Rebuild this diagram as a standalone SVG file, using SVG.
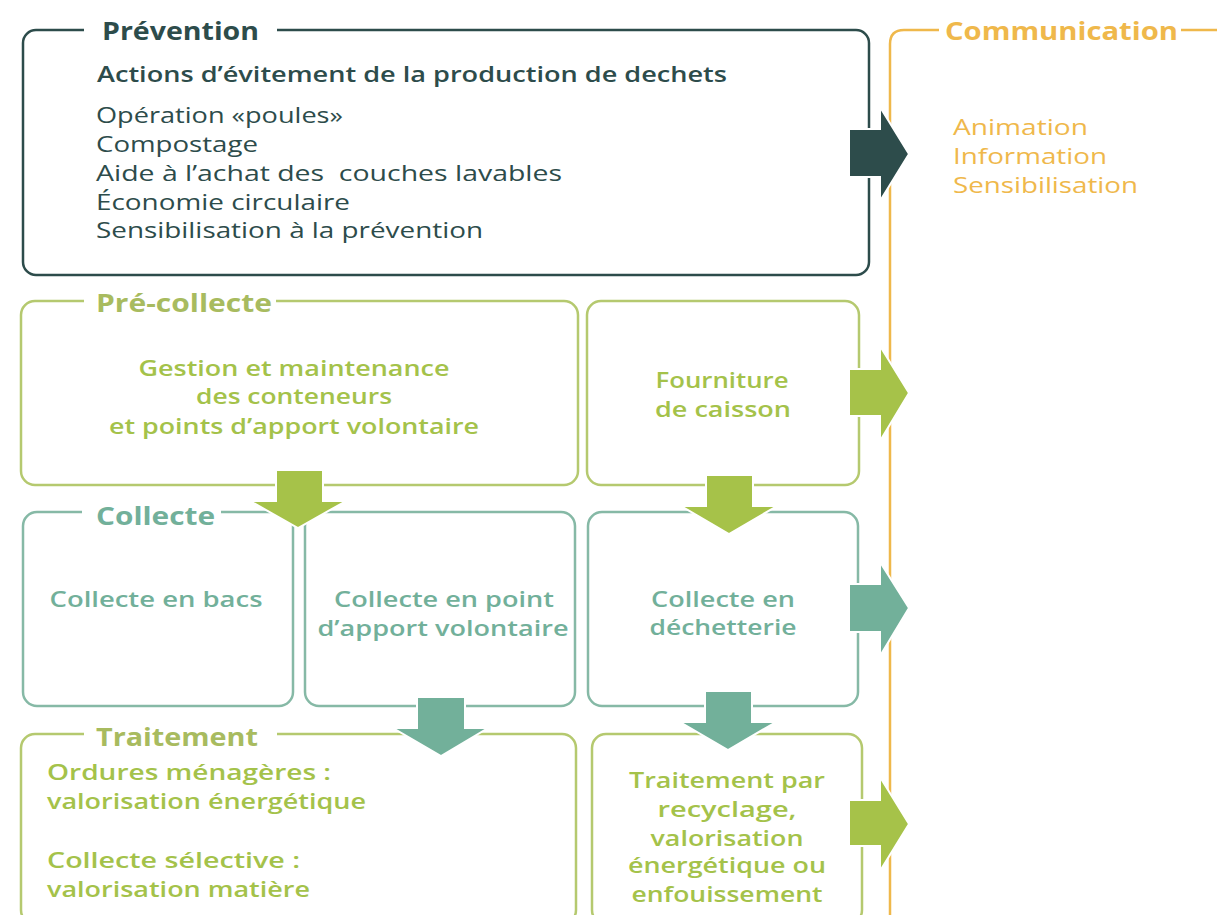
<svg xmlns="http://www.w3.org/2000/svg" width="1217" height="915" viewBox="0 0 1217 915">
<style>
text{font-family:"Open Sans","Liberation Sans",sans-serif}
.box{fill:none;stroke-width:2.5}
.dk{stroke:#2d4c4b}
.gr{stroke:#b5c96f}
.tl{stroke:#86b9a6}
.gap{fill:#fff;stroke:none}
.t{font-weight:700;font-size:25px}
.b{font-weight:600;font-size:21px}
.r{font-weight:400;font-size:22px}
.c{text-anchor:middle}
.fdk{fill:#2d4c4b}
.for{fill:#efb84b}
.fgt{fill:#a8bb5f}
.fg{fill:#a4c24a}
.ftl{fill:#72b09a}
.arr{stroke:#fff;stroke-width:2}
.pre{white-space:pre}
</style>
<rect width="1217" height="915" fill="#fff"/>

<g id="communication">
<path d="M890 925 V44 Q890 30 904 30 H939 M1181 30 H1217" fill="none" stroke="#efb84b" stroke-width="2.5"/>
<text x="945" y="40" class="t for" textLength="233" lengthAdjust="spacingAndGlyphs">Communication</text>
<text x="953" y="135" class="r for" textLength="135" lengthAdjust="spacingAndGlyphs">Animation</text>
<text x="953" y="164" class="r for" textLength="154" lengthAdjust="spacingAndGlyphs">Information</text>
<text x="953" y="193" class="r for" textLength="185" lengthAdjust="spacingAndGlyphs">Sensibilisation</text>
</g>

<g id="prevention">
<rect x="23" y="30" width="846" height="245" rx="13" class="box dk"/>
<rect x="84" y="25" width="193" height="10" class="gap"/>
<text x="102" y="40" class="t fdk" textLength="157" lengthAdjust="spacingAndGlyphs">Prévention</text>
<text x="97" y="82" class="b fdk" textLength="630" lengthAdjust="spacingAndGlyphs">Actions d’évitement de la production de dechets</text>
<text x="96" y="123" class="r fdk" textLength="247" lengthAdjust="spacingAndGlyphs">Opération «poules»</text>
<text x="96" y="152" class="r fdk" textLength="162" lengthAdjust="spacingAndGlyphs">Compostage</text>
<text x="96" y="181" class="r fdk pre" xml:space="preserve" textLength="466" lengthAdjust="spacingAndGlyphs">Aide à l’achat des  couches lavables</text>
<text x="96" y="210" class="r fdk" textLength="254" lengthAdjust="spacingAndGlyphs">Économie circulaire</text>
<text x="96" y="238" class="r fdk" textLength="387" lengthAdjust="spacingAndGlyphs">Sensibilisation à la prévention</text>
</g>

<g id="precollecte-gestion">
<rect x="21" y="301" width="557" height="184" rx="14" class="box gr"/>
<rect x="84" y="296" width="192" height="10" class="gap"/>
<text x="96" y="312" class="t fgt" textLength="176" lengthAdjust="spacingAndGlyphs">Pré-collecte</text>
<text x="294" y="376" class="b fg c" textLength="311" lengthAdjust="spacingAndGlyphs">Gestion et maintenance</text>
<text x="294" y="404" class="b fg c" textLength="196" lengthAdjust="spacingAndGlyphs">des conteneurs</text>
<text x="294" y="434" class="b fg c" textLength="370" lengthAdjust="spacingAndGlyphs">et points d’apport volontaire</text>
</g>

<g id="precollecte-caisson">
<rect x="587" y="301" width="272" height="184" rx="14" class="box gr"/>
<text x="722" y="388" class="b fg c" textLength="133" lengthAdjust="spacingAndGlyphs">Fourniture</text>
<text x="723" y="417" class="b fg c" textLength="136" lengthAdjust="spacingAndGlyphs">de caisson</text>
</g>

<g id="collecte-bacs">
<rect x="23" y="512" width="270" height="194" rx="14" class="box tl"/>
<rect x="82" y="506" width="139" height="10" class="gap"/>
<text x="96" y="525" class="t ftl" textLength="119" lengthAdjust="spacingAndGlyphs">Collecte</text>
<text x="156" y="607" class="b ftl c" textLength="213" lengthAdjust="spacingAndGlyphs">Collecte en bacs</text>
</g>

<g id="collecte-pav">
<rect x="305" y="512" width="270" height="194" rx="14" class="box tl"/>
<text x="444" y="607" class="b ftl c" textLength="220" lengthAdjust="spacingAndGlyphs">Collecte en point</text>
<text x="443" y="636" class="b ftl c" textLength="251" lengthAdjust="spacingAndGlyphs">d’apport volontaire</text>
</g>

<g id="collecte-decheterie">
<rect x="588" y="512" width="270" height="194" rx="14" class="box tl"/>
<text x="723" y="607" class="b ftl c" textLength="144" lengthAdjust="spacingAndGlyphs">Collecte en</text>
<text x="723" y="635" class="b ftl c" textLength="147" lengthAdjust="spacingAndGlyphs">déchetterie</text>
</g>

<g id="traitement-om">
<rect x="21" y="734" width="555" height="190" rx="14" class="box gr"/>
<rect x="84" y="729" width="193" height="10" class="gap"/>
<text x="96" y="746" class="t fgt" textLength="162" lengthAdjust="spacingAndGlyphs">Traitement</text>
<text x="47" y="780" class="b fg" textLength="284" lengthAdjust="spacingAndGlyphs">Ordures ménagères :</text>
<text x="47" y="809" class="b fg" textLength="319" lengthAdjust="spacingAndGlyphs">valorisation énergétique</text>
<text x="47" y="868" class="b fg" textLength="253" lengthAdjust="spacingAndGlyphs">Collecte sélective :</text>
<text x="47" y="897" class="b fg" textLength="263" lengthAdjust="spacingAndGlyphs">valorisation matière</text>
</g>

<g id="traitement-recyclage">
<rect x="592" y="734" width="270" height="190" rx="14" class="box gr"/>
<text x="727" y="788" class="b fg c" textLength="196" lengthAdjust="spacingAndGlyphs">Traitement par</text>
<text x="727" y="817" class="b fg c" textLength="139" lengthAdjust="spacingAndGlyphs">recyclage,</text>
<text x="727" y="846" class="b fg c" textLength="153" lengthAdjust="spacingAndGlyphs">valorisation</text>
<text x="727" y="873" class="b fg c" textLength="198" lengthAdjust="spacingAndGlyphs">énergétique ou</text>
<text x="727" y="902" class="b fg c" textLength="191" lengthAdjust="spacingAndGlyphs">enfouissement</text>
</g>

<g id="connectors">
<polygon class="arr" fill="#2d4c4b" points="849,129 880,129 880,107 909,154 880,201 880,177 849,177"/>
<polygon class="arr" fill="#a6c249" points="849,369 880,369 880,346 909,393 880,441 880,416 849,416"/>
<polygon class="arr" fill="#72b09a" points="849,584 880,584 880,562 909,608 880,656 880,632 849,632"/>
<polygon class="arr" fill="#a6c249" points="849,800 880,800 880,777 909,824 880,871 880,846 849,846"/>
<polygon class="arr" fill="#a6c249" points="276,470 323,470 323,501 346,501 298,528 250,501 276,501"/>
<polygon class="arr" fill="#a6c249" points="706,475 753,475 753,506 777,506 729,534 681,506 706,506"/>
<polygon class="arr" fill="#72b09a" points="417,697 465,697 465,728 488,728 441,756 393,728 417,728"/>
<polygon class="arr" fill="#72b09a" points="705,691 752,691 752,722 776,722 728,750 680,722 705,722"/>
</g>
</svg>
